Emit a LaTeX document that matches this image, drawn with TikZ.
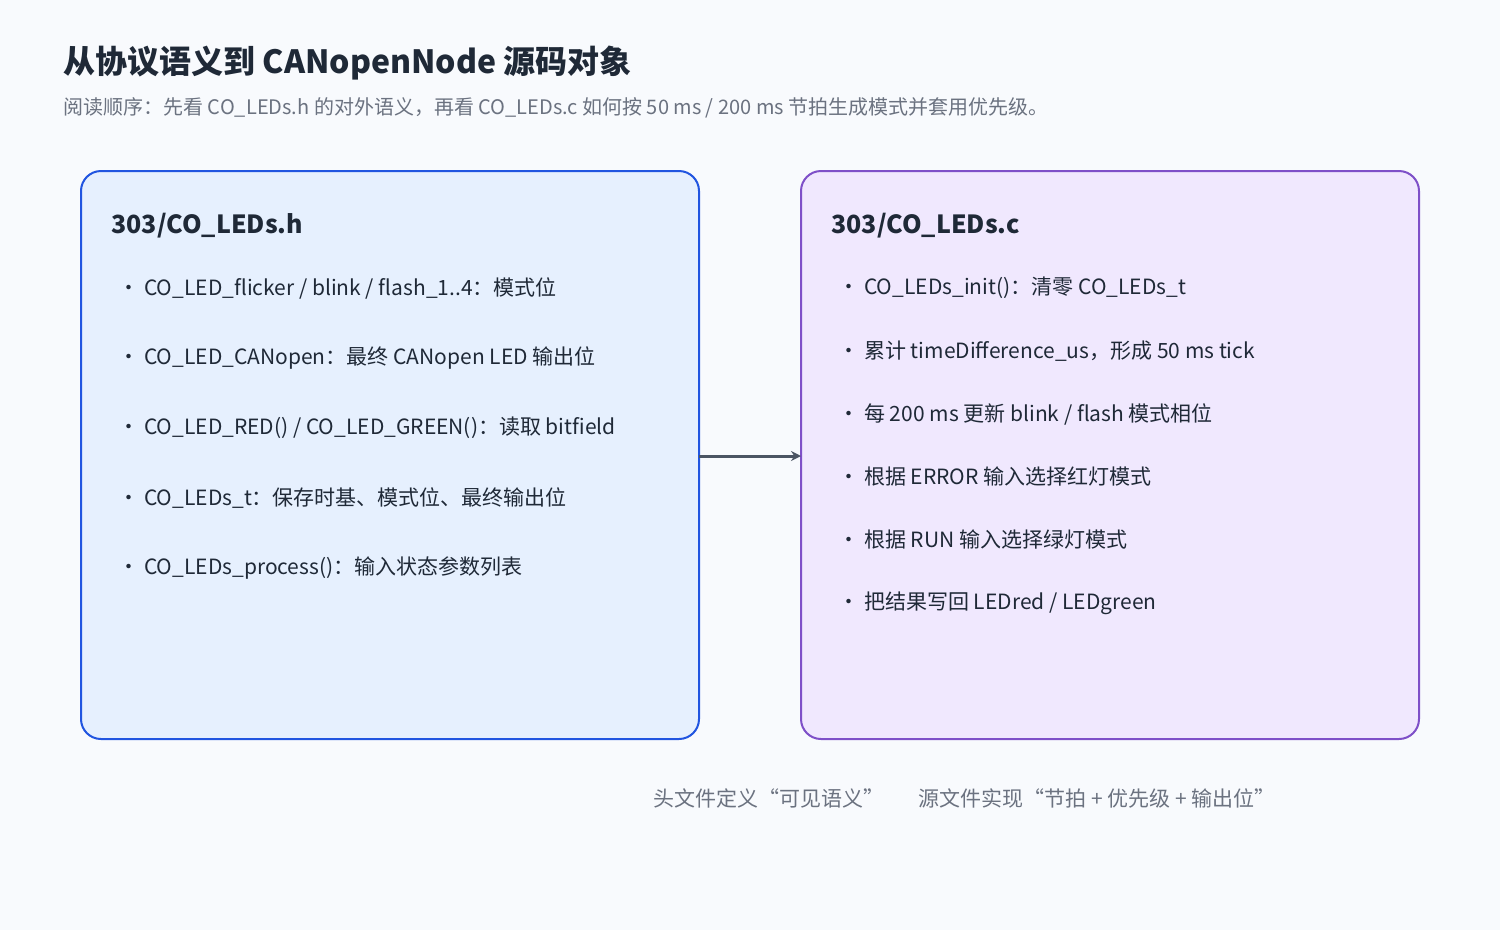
\documentclass[tikz,border=0pt]{standalone}
\usepackage{fontspec}
\setmainfont{Noto Sans CJK SC}
\usetikzlibrary{arrows.meta}
\definecolor{bgc}{HTML}{F8FAFD}
\definecolor{ink}{HTML}{1F2937}
\definecolor{muted}{HTML}{6B7280}
\definecolor{hfill}{HTML}{E6F0FE}
\definecolor{hline}{HTML}{2155E0}
\definecolor{cfill}{HTML}{F0E8FE}
\definecolor{cline}{HTML}{7E50C8}
\definecolor{arr}{HTML}{4B5563}
\tikzset{
  panel/.style={rounded corners=20pt, line width=2pt},
  head/.style={anchor=west, font=\fontsize{25}{30}\selectfont\bfseries, text=ink},
  item/.style={anchor=west, font=\fontsize{21}{25}\selectfont, text=ink},
  note/.style={anchor=west, font=\fontsize{21}{25}\selectfont, text=muted},
}
\begin{document}
\begin{tikzpicture}[x=1pt, y=-1pt]
    \fill[bgc] (0,0) rectangle (1500,930);
    \useasboundingbox (0,0) rectangle (1500,930);
    \node[anchor=west, font=\fontsize{32}{38}\selectfont\bfseries, text=ink] (title) at (60,63)
        {从协议语义到 CANopenNode 源码对象};
    \node[note, font=\fontsize{20}{24}\selectfont] (subtitle) at (60,108)
        {阅读顺序：先看 CO\_LEDs.h 的对外语义，再看 CO\_LEDs.c 如何按 50 ms / 200 ms 节拍生成模式并套用优先级。};
    % two source panels
    \draw[panel, fill=hfill, draw=hline] (81,171) rectangle (699,739);
    \draw[panel, fill=cfill, draw=cline] (801,171) rectangle (1419,739);
    \coordinate (hout) at (699,456);
    \coordinate (cin) at (801,456);
    \node[head] (hhead) at (108,226) {303/CO\_LEDs.h};
    \node[head] (chead) at (828,226) {303/CO\_LEDs.c};
    \foreach \t [count=\i] in {
        CO\_LED\_flicker / blink / flash\_1..4：模式位,
        CO\_LED\_CANopen：最终 CANopen LED 输出位,
        CO\_LED\_RED() / CO\_LED\_GREEN()：读取 bitfield,
        CO\_LEDs\_t：保存时基、模式位、最终输出位,
        CO\_LEDs\_process()：输入状态参数列表}
        \node[item] (h\i) at (115,218+70*\i) {• \t};
    \foreach \t [count=\i] in {
        CO\_LEDs\_init()：清零 CO\_LEDs\_t,
        {累计 timeDifference\_us，形成 50 ms tick},
        每 200 ms 更新 blink / flash 模式相位,
        根据 ERROR 输入选择红灯模式,
        根据 RUN 输入选择绿灯模式,
        把结果写回 LEDred / LEDgreen}
        \node[item] (c\i) at (835,225+63*\i) {• \t};
    \draw[line width=3pt, arr, -{Stealth[length=10pt,width=10pt]}] (hout) -- (cin);
    \node[note] (hnote) at (650,798) {头文件定义“可见语义”};
    \node[note] (cnote) at (915,798) {源文件实现“节拍 + 优先级 + 输出位”};
\end{tikzpicture}
\end{document}
